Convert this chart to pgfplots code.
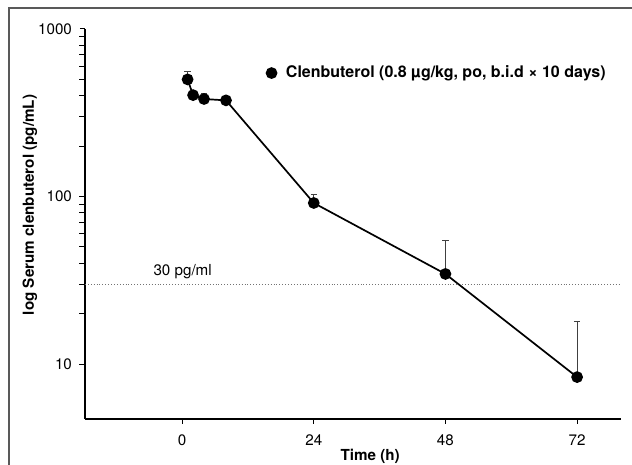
\documentclass[border=0pt]{standalone}
\usepackage{fontspec}
\setmainfont{TeX Gyre Heros}
\usepackage{pgfplots}
\pgfplotsset{compat=1.18}

\begin{document}
\begin{tikzpicture}
% picture box: 632x465 px at 0.5pt per px
\useasboundingbox (0,0) rectangle (316pt,232.5pt);
\draw[black!65, line width=1pt] (4.5pt,-5pt) -- (4.5pt,228.5pt) -- (330pt,228.5pt);
\begin{axis}[
    at={(42.5pt,23pt)}, anchor=south west,
    width=268pt, height=195pt, scale only axis,
    ymode=log,
    xmin=-17.7, xmax=80,
    ymin=4.7, ymax=1000,
    axis x line*=bottom, axis y line*=left,
    axis line style={-, line width=0.6pt},
    tick align=outside,
    major tick length=2.5pt,
    tick style={black, line width=0.5pt},
    xtick={0,24,48,72},
    ytick={10,100,1000},
    yticklabels={10,100,1000},
    extra y ticks={30,300},
    extra y tick labels={},
    extra y tick style={major tick length=1.6pt},
    minor y tick num=0,
    font=\fontsize{7.6}{9}\selectfont,
    /pgf/number format/assume math mode=true,
    yticklabel style={xshift=-0.5pt},
    xticklabel style={yshift=-2pt},
    xlabel={\bfseries Time (h)},
    ylabel={\bfseries log Serum clenbuterol (pg/mL)},
    xlabel style={at={(axis description cs:0.532,-0.097)}, anchor=center},
    ylabel style={at={(axis description cs:-0.103,0.549)}, anchor=center},
    legend style={at={(axis description cs:0.338,0.887)}, anchor=west,
        draw=none, fill=none, font=\fontsize{8}{9.5}\selectfont\bfseries,
        inner sep=0pt},
    legend image code/.code={\draw[#1] plot coordinates {(0pt,0pt)};
        \path[draw=none] (0pt,0pt) -- (5.2pt,0pt);},
    legend cell align=left,
]
\addplot[black!55, densely dotted, line width=0.45pt, forget plot]
    coordinates {(-17.7,30) (80,30)};
\addplot[black, line width=0.85pt, mark=*, mark size=2.5pt,
    error bars/.cd, y dir=plus, y explicit,
    error bar style={black!75, line width=0.45pt},
    error mark options={rotate=90, mark size=1.6pt, black!75, line width=0.45pt}]
    table[x=t, y=c, y error=e] {
    t   c     e
    1   500   60
    2   403   0
    4   382   33
    8   375   18
    24  91.5  12
    48  34.5  20
    72  8.36  9.5
};
\addlegendentry{Clenbuterol (0.8 µg/kg, po, b.i.d × 10 days)}
\node[anchor=center] at (axis cs:0.1,35.4) {30 pg/ml};
\end{axis}
\end{tikzpicture}
\end{document}
